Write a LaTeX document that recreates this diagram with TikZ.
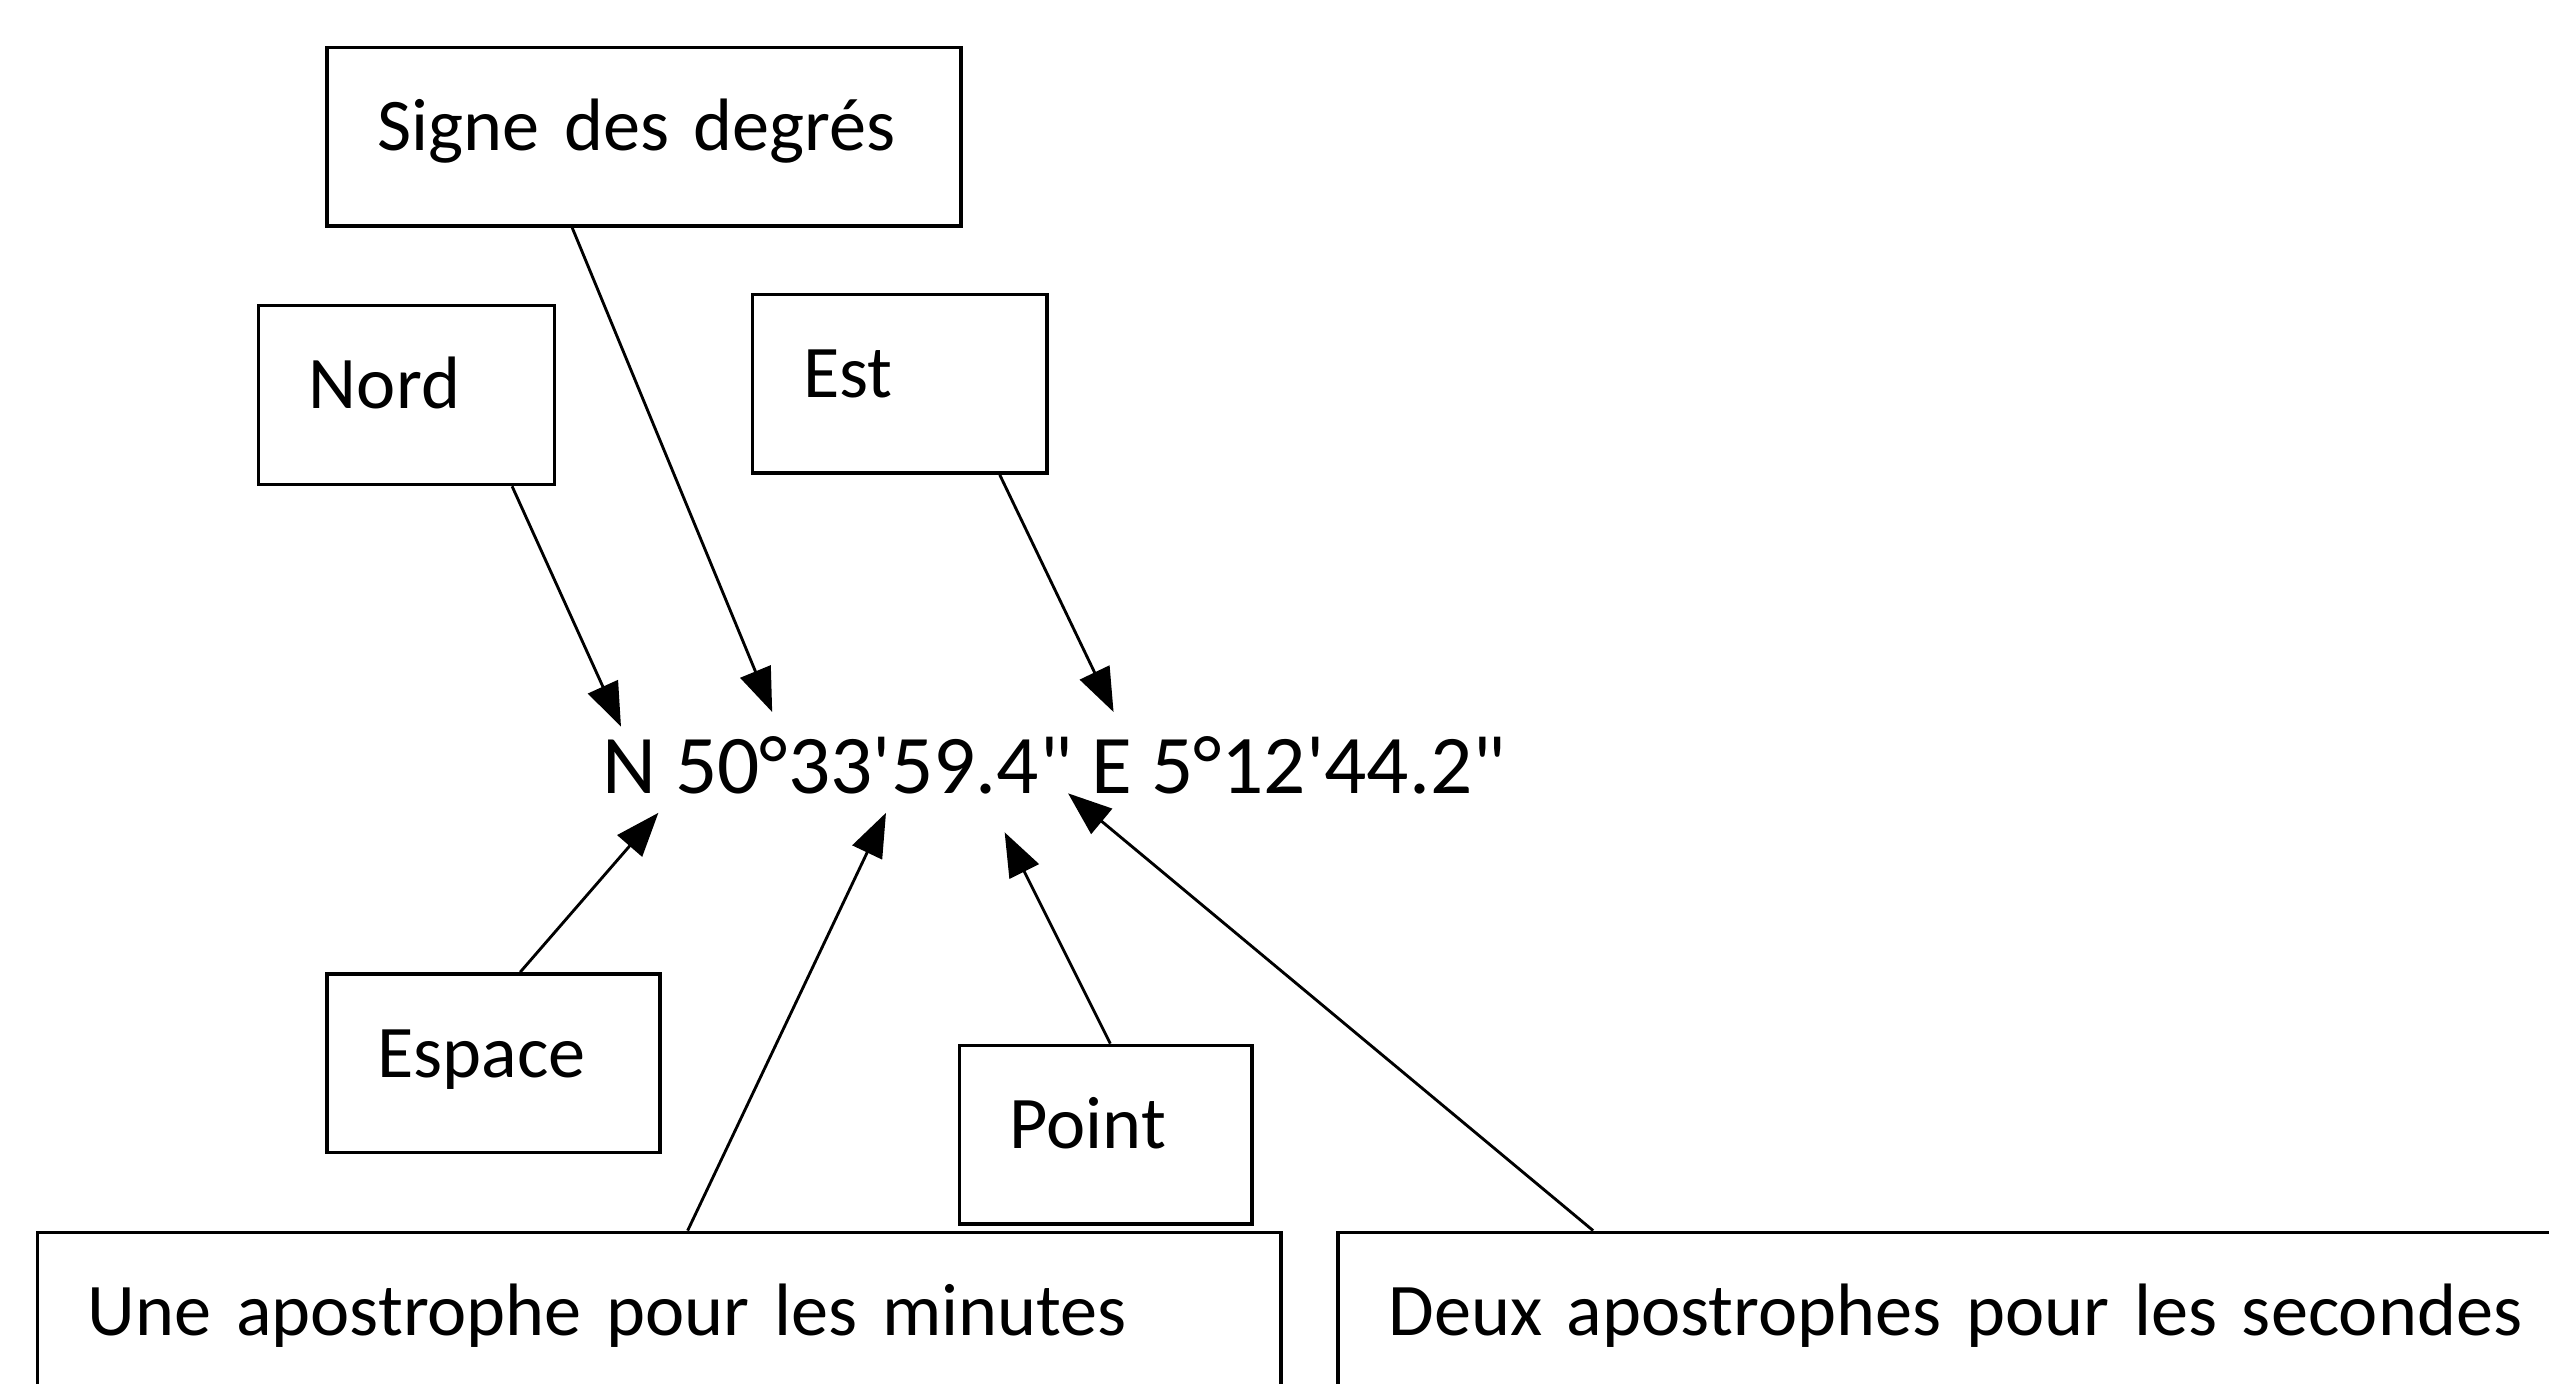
\documentclass[tikz,border=0pt]{standalone}
\usepackage{fontspec}
\setmainfont{Carlito}
\usepackage{tikz}
\usetikzlibrary{arrows.meta, positioning}
\tikzset{
    >={Triangle[length=0.27cm, width=0.2cm]}, % big filled heads
    every node/.style={font=\fontsize{14.6}{17}\selectfont},
    label box/.style={draw, line width=0.6pt, anchor=north west,
        inner xsep=0.31cm, inner ysep=0pt, text height=0.635cm, text depth=0.465cm,
        text width=#1, align=left, font=\fontsize{13}{16}\selectfont,
        execute at begin node=\hbox\bgroup, execute at end node=\egroup}, % one line, high and to the left
    pointer/.style={->, line width=0.5pt},
}

\begin{document}
\begin{tikzpicture}
    \useasboundingbox (0,0) rectangle (15.68,8.51);
    \clip (0,0) rectangle (15.68,8.51);

    \node[inner sep=0pt, anchor=base west] at (3.70,3.63) (coord)
        {N 50°33\textquotesingle 59.4\textquotedbl{} E 5°12\textquotesingle 44.2\textquotedbl};

    \node[label box=3.28cm] at (2.00,8.23) (signe) {Signe des degrés};
    \node[label box=1.20cm] at (1.58,6.64) (nord) {Nord};
    \node[label box=1.19cm] at (4.62,6.71) (est) {Est};
    \node[label box=1.43cm] at (2.00,2.53) (espace) {Espace};
    \node[label box=1.18cm] at (5.89,2.09) (point) {Point};
    \node[label box=7.03cm] at (0.22,0.94) (une) {Une apostrophe pour les minutes};
    \node[label box=7.60cm] at (8.22,0.94) (deux) {Deux apostrophes pour les secondes};

    % where the heads touch the coordinates
    \coordinate (tipnord) at (3.82,4.04);
    \coordinate (tipsigne) at (4.75,4.13);
    \coordinate (tipest) at (6.85,4.13);
    \coordinate (tipespace) at (4.05,3.51);
    \coordinate (tipune) at (5.45,3.51);
    \coordinate (tippoint) at (6.18,3.39);
    \coordinate (tipdeux) at (6.57,3.63);

    \draw[pointer] ([xshift=1.57cm]nord.south west) -- (tipnord);
    \draw[pointer] ([xshift=1.52cm]signe.south west) -- (tipsigne);
    \draw[pointer] ([xshift=1.53cm]est.south west) -- (tipest);
    \draw[pointer] ([xshift=1.20cm]espace.north west) -- (tipespace);
    \draw[pointer] ([xshift=4.01cm]une.north west) -- (tipune);
    \draw[pointer] ([xshift=0.94cm]point.north west) -- (tippoint);
    \draw[pointer] ([xshift=1.58cm]deux.north west) -- (tipdeux);
\end{tikzpicture}
\end{document}
